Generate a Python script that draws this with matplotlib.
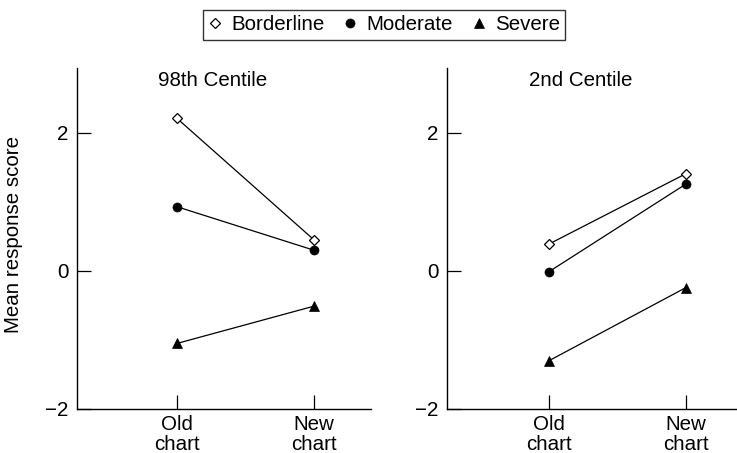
import matplotlib
matplotlib.use("Agg")
import matplotlib.pyplot as plt
from matplotlib.lines import Line2D

plt.rcParams['font.family'] = ['Liberation Sans', 'DejaVu Sans']

categories = ["Old\nchart", "New\nchart"]
panels = ["98th Centile", "2nd Centile"]
series_names = ["Borderline", "Moderate", "Severe"]
# values per panel: [Old, New]
p98_borderline = [2.21, 0.45]
p98_moderate = [0.93, 0.30]
p98_severe = [-1.05, -0.51]
p2_borderline = [0.39, 1.41]
p2_moderate = [-0.01, 1.26]
p2_severe = [-1.30, -0.24]
yticks = [-2, 0, 2]
ytick_labels = ["\u22122", "0", "2"]

data = [
    [p98_borderline, p98_moderate, p98_severe],
    [p2_borderline, p2_moderate, p2_severe],
]

styles = [
    dict(marker='D', ms=5.2, mfc='white', mec='black', mew=0.9),
    dict(marker='o', ms=6.5, mfc='black', mec='black', mew=0.5),
    dict(marker='^', ms=7, mfc='black', mec='black', mew=0.5),
]

W, H = 737, 453
fig = plt.figure(figsize=(W / 100, H / 100), dpi=100)

ax_rects = [
    (77 / W, (H - 409) / H, 294 / W, 341 / H),
    (447 / W, (H - 409) / H, 290 / W, 341 / H),
]
xlims = [(-0.73, 1.416), (-0.745, 1.372)]
FS = 14.8

for i, (rect, title, series) in enumerate(zip(ax_rects, panels, data)):
    ax = fig.add_axes(rect)
    x = list(range(len(categories)))
    for vals, st in zip(series, styles):
        ax.plot(x, vals, color='black', lw=0.9, zorder=2, **st)
    ax.set_xlim(*xlims[i])
    ax.set_ylim(-2, 2.94)
    ax.set_xticks(x)
    ax.set_xticklabels(categories, fontsize=FS, linespacing=1.08)
    ax.set_yticks(yticks)
    ax.set_yticklabels(ytick_labels, fontsize=FS)
    ax.tick_params(axis='both', direction='in', length=10, width=0.9, color='black')
    ax.tick_params(axis='x', pad=4)
    ax.tick_params(axis='y', pad=6)
    for s in ['top', 'right']:
        ax.spines[s].set_visible(False)
    for s in ['left', 'bottom']:
        ax.spines[s].set_linewidth(1.0)
        ax.spines[s].set_color('black')
    ax.text(0.46, 0.962, title, transform=ax.transAxes, ha='center', va='center', fontsize=FS)
    if i == 0:
        ax.set_ylabel("Mean response score", fontsize=FS)
        ax.yaxis.set_label_coords(-0.184, 0.513)

handles = [Line2D([], [], linestyle='none', color='black', **st) for st in styles]
leg = fig.legend(handles, series_names, loc='center', ncol=3,
                 bbox_to_anchor=(384 / W, 1 - 25 / H), fontsize=FS,
                 frameon=True, fancybox=False, edgecolor='black',
                 handlelength=0.7, handletextpad=0.45, columnspacing=0.9,
                 borderpad=0.25, borderaxespad=0)
leg.get_frame().set_linewidth(1.0)

fig.savefig("out.png", dpi=100)
